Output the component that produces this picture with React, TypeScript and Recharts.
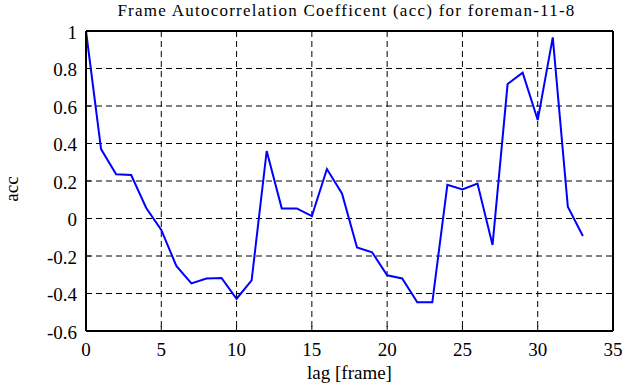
import {
    LineChart,
    Line,
    XAxis,
    YAxis,
    CartesianGrid,
} from "recharts"

const lags = [
    0, 1, 2, 3, 4, 5, 6, 7, 8, 9, 10, 11, 12, 13, 14, 15, 16,
    17, 18, 19, 20, 21, 22, 23, 24, 25, 26, 27, 28, 29, 30, 31, 32, 33,
]

const accValues = [
    1.0, 0.37, 0.236, 0.232, 0.056, -0.061, -0.253, -0.346, -0.32, -0.317,
    -0.428, -0.33, 0.36, 0.054, 0.054, 0.013, 0.264, 0.134, -0.155, -0.18,
    -0.303, -0.32, -0.447, -0.447, 0.18, 0.155, 0.186, -0.141, 0.717, 0.778,
    0.525, 0.966, 0.063, -0.093,
]

const xTicks = [0, 5, 10, 15, 20, 25, 30, 35]
const yTicks = [-0.6, -0.4, -0.2, 0, 0.2, 0.4, 0.6, 0.8, 1]

const title = "Frame Autocorrelation Coefficent (acc) for foreman-11-8"
const xLabel = "lag [frame]"
const yLabel = "acc"

const data = lags.map((lag, i) => ({
    lag,
    acc: accValues[i],
}))

const font = "'Liberation Serif', 'Times New Roman', serif"
const fmt = (v: number) => String(Number(v.toFixed(1)))

function XTick({ x, y, payload }: any) {
    return (
        <text
            x={x}
            y={y}
            dy={13.5}
            textAnchor="middle"
            fontSize={19}
            fill="#000"
        >
            {fmt(payload.value)}
        </text>
    )
}

function YTick({ x, y, payload }: any) {
    return (
        <text
            x={x}
            y={y}
            dy={7.5}
            textAnchor="end"
            fontSize={19}
            fill="#000"
        >
            {fmt(payload.value)}
        </text>
    )
}

export default function App() {
    return (
        <div style={{ position: "relative", width: 635, height: 387 }}>
            {/* force serif on every svg text, tick labels included */}
            <style>{`
                body { margin: 0; }
                svg text { font-family: ${font} !important; }
            `}</style>

            <LineChart
                width={635}
                height={387}
                data={data}
                margin={{ top: 30, right: 21, bottom: 26, left: 26 }}
            >
                <CartesianGrid
                    stroke="#000"
                    strokeDasharray="6 4"
                    strokeWidth={1}
                />

                <XAxis
                    dataKey="lag"
                    type="number"
                    domain={[0, 35]}
                    ticks={xTicks}
                    height={30}
                    tickSize={-5}
                    tickMargin={16.5}
                    axisLine={{ stroke: "#000", strokeWidth: 2 }}
                    tickLine={{ stroke: "#000", strokeWidth: 1 }}
                    tick={<XTick />}
                    interval={0}
                />

                <XAxis
                    xAxisId="top"
                    orientation="top"
                    dataKey="lag"
                    type="number"
                    domain={[0, 35]}
                    ticks={xTicks}
                    height={1}
                    tickSize={-5}
                    axisLine={{ stroke: "#000", strokeWidth: 2 }}
                    tickLine={{ stroke: "#000", strokeWidth: 1 }}
                    tick={false}
                    interval={0}
                />

                <YAxis
                    type="number"
                    domain={[-0.6, 1]}
                    ticks={yTicks}
                    width={60}
                    tickSize={-5}
                    tickMargin={14}
                    axisLine={{ stroke: "#000", strokeWidth: 2 }}
                    tickLine={{ stroke: "#000", strokeWidth: 1 }}
                    tick={<YTick />}
                    interval={0}
                />

                <YAxis
                    yAxisId="right"
                    orientation="right"
                    type="number"
                    domain={[-0.6, 1]}
                    ticks={yTicks}
                    width={1}
                    tickSize={-5}
                    axisLine={{ stroke: "#000", strokeWidth: 2 }}
                    tickLine={{ stroke: "#000", strokeWidth: 1 }}
                    tick={false}
                    interval={0}
                />

                <Line
                    type="linear"
                    dataKey="acc"
                    stroke="#0000ff"
                    strokeWidth={2}
                    dot={false}
                    isAnimationActive={false}
                />
            </LineChart>

            <svg
                width={635}
                height={387}
                style={{ position: "absolute", left: 0, top: 0, pointerEvents: "none" }}
            >
                <text
                    x={346.5}
                    y={15.5}
                    textAnchor="middle"
                    fontSize={17}
                    letterSpacing={1.25}
                    fill="#000"
                >
                    {title}
                </text>

                <text
                    x={349.5}
                    y={379}
                    textAnchor="middle"
                    fontSize={19}
                    fill="#000"
                >
                    {xLabel}
                </text>

                <text
                    x={18}
                    y={189}
                    textAnchor="middle"
                    transform="rotate(-90 18 189)"
                    fontSize={19}
                    fill="#000"
                >
                    {yLabel}
                </text>
            </svg>
        </div>
    )
}
